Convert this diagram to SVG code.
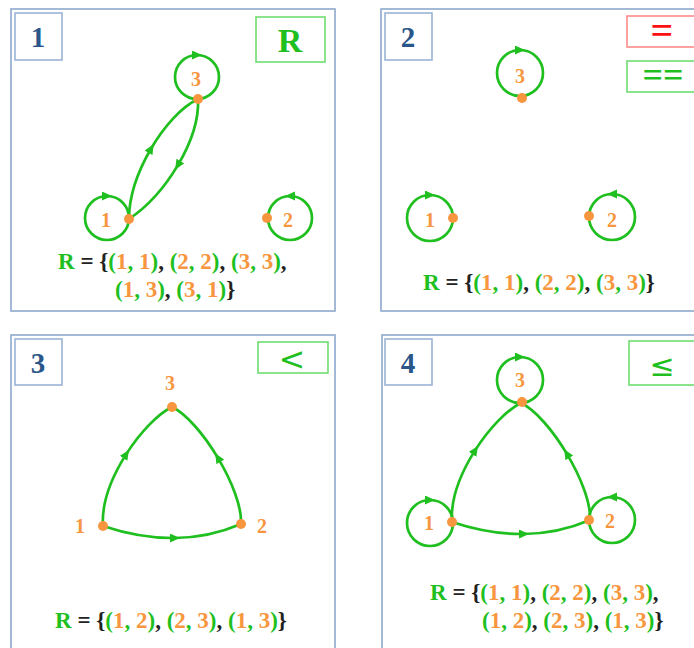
<svg xmlns="http://www.w3.org/2000/svg" width="694" height="648" viewBox="0 0 694 648">
<style>
.panel{fill:#fff;stroke:#8ea8cc;stroke-width:1.6}
.lbox{fill:#fff;stroke:#9ab3d5;stroke-width:1.6}
.lnum{font-family:"Liberation Serif",serif;font-weight:bold;font-size:29px;fill:#2a5689;text-anchor:middle}
.gbox{fill:#fff;stroke:#6fdc6f;stroke-width:1.6}
.rbox{fill:#fff;stroke:#ff8a8a;stroke-width:1.6}
.edge{fill:none;stroke:#1fbf1f;stroke-width:2.7;marker-mid:url(#arr)}
.dot{fill:#f7963f}
.nl{font-family:"Liberation Serif",serif;font-weight:bold;font-size:20px;fill:#f7963f;text-anchor:middle}
.set{font-family:"Liberation Serif",serif;font-weight:bold;font-size:23px;fill:#222}
.g{fill:#1fbf1f}
.o{fill:#f7963f}
.k{fill:#222}
</style>
<defs>
<marker id="arr" markerUnits="userSpaceOnUse" markerWidth="12" markerHeight="10" refX="5" refY="4.5" orient="auto">
<path d="M0,0 L10,4.5 L0,9 z" fill="#1fbf1f"/>
</marker>
</defs>

<g id="panels">
<rect class="panel" x="11" y="9" width="324" height="302"/>
<rect class="panel" x="381" y="9" width="330" height="302"/>
<rect class="panel" x="11" y="335" width="324" height="330"/>
<rect class="panel" x="382" y="335" width="330" height="330"/>
</g>

<g id="labels">
<rect class="lbox" x="15" y="13" width="47" height="47"/>
<text class="lnum" x="38" y="47">1</text>
<rect class="lbox" x="385" y="13" width="47" height="47"/>
<text class="lnum" x="408" y="47">2</text>
<rect class="lbox" x="15" y="339" width="47" height="46"/>
<text class="lnum" x="38" y="373">3</text>
<rect class="lbox" x="385" y="339" width="47" height="46"/>
<text class="lnum" x="408" y="373">4</text>
</g>

<g id="relation-tags">
<rect class="gbox" x="256" y="17" width="69" height="45"/>
<text x="290" y="52" font-family="Liberation Serif,serif" font-weight="bold" font-size="34" fill="#1fbf1f" text-anchor="middle">R</text>
<rect class="rbox" x="627" y="16" width="80" height="31"/>
<text x="662" y="44" font-family="Liberation Serif,serif" font-weight="bold" font-size="40" fill="#ff1010" text-anchor="middle">=</text>
<rect class="gbox" x="627" y="61" width="80" height="31"/>
<text x="663" y="87" font-family="Liberation Serif,serif" font-weight="bold" font-size="36" fill="#1fbf1f" text-anchor="middle">==</text>
<rect class="gbox" x="258" y="342" width="70" height="31"/>
<text x="292" y="370" font-family="DejaVu Sans,sans-serif" font-size="32" fill="#1fbf1f" text-anchor="middle">&lt;</text>
<rect class="gbox" x="629" y="341" width="80" height="44"/>
<text x="662" y="376" font-family="DejaVu Sans,sans-serif" font-size="30" fill="#1fbf1f" text-anchor="middle">≤</text>
</g>

<g id="connectors">
<!-- panel 1 loops -->
<path class="edge" d="M85,218 A22,22 0 0 1 107,196 A22,22 0 1 1 85,218"/>
<path class="edge" d="M312,218 A22,22 0 0 0 290,196 A22,22 0 1 0 312,218"/>
<path class="edge" d="M175,77 A22,22 0 0 1 197,55 A22,22 0 1 1 175,77"/>
<!-- panel 1 edges -->
<path class="edge" d="M129,219 C129,197 138,171 151.1,148.5 C164.25,126 181.5,107 198,99"/>
<path class="edge" d="M198,99 C199,119.5 190.75,143.5 177.75,165.4 C164.75,187.25 147,207 129,219"/>
<!-- panel 2 loops -->
<path class="edge" d="M497,73 A23,23 0 0 1 520,50 A23,23 0 1 1 497,73"/>
<path class="edge" d="M407,218 A23,23 0 0 1 430,195 A23,23 0 1 1 407,218"/>
<path class="edge" d="M635,217 A23,23 0 0 0 612,194 A23,23 0 1 0 635,217"/>
<!-- panel 3 edges -->
<g id="tri3">
<path class="edge" d="M103,526 Q140.5,538.5 175,538 Q209.5,537.5 241,524"/>
<path class="edge" d="M103,526 C101.5,503 112,476.5 126.25,454.1 C140.5,431.75 158.5,413.5 172,407"/>
<path class="edge" d="M241,524 C242,507 231.75,481 217.75,457.6 C203.75,434.25 186,413.5 172,407"/>
</g>
<!-- panel 4 loops -->
<path class="edge" d="M497,380 A23,23 0 0 1 520,357 A23,23 0 1 1 497,380"/>
<path class="edge" d="M407,523 A23,23 0 0 1 430,500 A23,23 0 1 1 407,523"/>
<path class="edge" d="M635,520 A23,23 0 0 0 612,497 A23,23 0 1 0 635,520"/>
<!-- panel 4 edges -->
<g transform="translate(349,-4)">
<path class="edge" d="M103,526 Q140.5,538.5 175,538 Q209.5,537.5 241,524"/>
<path class="edge" d="M103,526 C101.5,503 112,476.5 126.25,454.1 C140.5,431.75 158.5,413.5 172,407"/>
<path class="edge" d="M241,524 C242,507 231.75,481 217.75,457.6 C203.75,434.25 186,413.5 172,407"/>
</g>
</g>

<g id="p1-node1"><circle class="dot" cx="129" cy="219" r="5"/><text class="nl" x="106" y="227">1</text></g>
<g id="p1-node2"><circle class="dot" cx="267" cy="218" r="5"/><text class="nl" x="288" y="227">2</text></g>
<g id="p1-node3"><circle class="dot" cx="198" cy="99" r="5"/><text class="nl" x="196" y="86">3</text></g>

<g id="p2-node1"><circle class="dot" cx="453" cy="218" r="5"/><text class="nl" x="430" y="227">1</text></g>
<g id="p2-node2"><circle class="dot" cx="589" cy="216" r="5"/><text class="nl" x="612" y="227">2</text></g>
<g id="p2-node3"><circle class="dot" cx="522" cy="98" r="5"/><text class="nl" x="520" y="83">3</text></g>

<g id="p3-node1"><circle class="dot" cx="103" cy="526" r="5"/><text class="nl" x="80" y="533">1</text></g>
<g id="p3-node2"><circle class="dot" cx="241" cy="524" r="5"/><text class="nl" x="262" y="533">2</text></g>
<g id="p3-node3"><circle class="dot" cx="172" cy="407" r="5"/><text class="nl" x="170" y="390">3</text></g>

<g id="p4-node1"><circle class="dot" cx="452" cy="522" r="5"/><text class="nl" x="429" y="530">1</text></g>
<g id="p4-node2"><circle class="dot" cx="589" cy="520" r="5"/><text class="nl" x="610" y="528">2</text></g>
<g id="p4-node3"><circle class="dot" cx="522" cy="402" r="5"/><text class="nl" x="520" y="387">3</text></g>

<g id="sets">
<text class="set" x="58" y="269"><tspan class="g">R</tspan> = {<tspan class="g">(</tspan><tspan class="o">1</tspan><tspan class="g">, </tspan><tspan class="o">1</tspan><tspan class="g">)</tspan>, <tspan class="g">(</tspan><tspan class="o">2</tspan><tspan class="g">, </tspan><tspan class="o">2</tspan><tspan class="g">)</tspan>, <tspan class="g">(</tspan><tspan class="o">3</tspan><tspan class="g">, </tspan><tspan class="o">3</tspan><tspan class="g">)</tspan>,</text>
<text class="set" x="115" y="297"><tspan class="g">(</tspan><tspan class="o">1</tspan><tspan class="g">, </tspan><tspan class="o">3</tspan><tspan class="g">)</tspan>, <tspan class="g">(</tspan><tspan class="o">3</tspan><tspan class="g">, </tspan><tspan class="o">1</tspan><tspan class="g">)</tspan>}</text>
<text class="set" x="423" y="290"><tspan class="g">R</tspan> = {<tspan class="g">(</tspan><tspan class="o">1</tspan><tspan class="g">, </tspan><tspan class="o">1</tspan><tspan class="g">)</tspan>, <tspan class="g">(</tspan><tspan class="o">2</tspan><tspan class="g">, </tspan><tspan class="o">2</tspan><tspan class="g">)</tspan>, <tspan class="g">(</tspan><tspan class="o">3</tspan><tspan class="g">, </tspan><tspan class="o">3</tspan><tspan class="g">)</tspan>}</text>
<text class="set" x="55" y="628"><tspan class="g">R</tspan> = {<tspan class="g">(</tspan><tspan class="o">1</tspan><tspan class="g">, </tspan><tspan class="o">2</tspan><tspan class="g">)</tspan>, <tspan class="g">(</tspan><tspan class="o">2</tspan><tspan class="g">, </tspan><tspan class="o">3</tspan><tspan class="g">)</tspan>, <tspan class="g">(</tspan><tspan class="o">1</tspan><tspan class="g">, </tspan><tspan class="o">3</tspan><tspan class="g">)</tspan>}</text>
<text class="set" x="430" y="600"><tspan class="g">R</tspan> = {<tspan class="g">(</tspan><tspan class="o">1</tspan><tspan class="g">, </tspan><tspan class="o">1</tspan><tspan class="g">)</tspan>, <tspan class="g">(</tspan><tspan class="o">2</tspan><tspan class="g">, </tspan><tspan class="o">2</tspan><tspan class="g">)</tspan>, <tspan class="g">(</tspan><tspan class="o">3</tspan><tspan class="g">, </tspan><tspan class="o">3</tspan><tspan class="g">)</tspan>,</text>
<text class="set" x="482" y="628"><tspan class="g">(</tspan><tspan class="o">1</tspan><tspan class="g">, </tspan><tspan class="o">2</tspan><tspan class="g">)</tspan>, <tspan class="g">(</tspan><tspan class="o">2</tspan><tspan class="g">, </tspan><tspan class="o">3</tspan><tspan class="g">)</tspan>, <tspan class="g">(</tspan><tspan class="o">1</tspan><tspan class="g">, </tspan><tspan class="o">3</tspan><tspan class="g">)</tspan>}</text>
</g>
</svg>
